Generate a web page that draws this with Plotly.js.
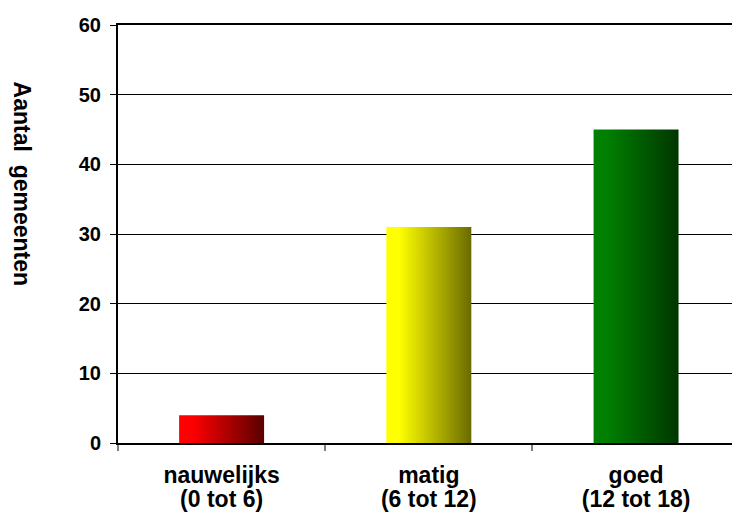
<!DOCTYPE html>
<html>
<head>
<meta charset="utf-8">
<script src="https://cdn.plot.ly/plotly-3.0.1.min.js"></script>
<style>
  html, body { margin: 0; padding: 0; background: #fff; }
  #chart { width: 732px; height: 522px; }
</style>
</head>
<body>
<div id="chart"></div>
<script>
// Beoordeling per klasse: aantal gemeenten
const categories = ['nauwelijks', 'matig', 'goed'];
const ranges = ['(0 tot 6)', '(6 tot 12)', '(12 tot 18)'];
const counts = [4, 31, 45];
const lightColors = ['#ff0000', '#ffff00', '#008000'];
const darkColors = ['#5a0000', '#6a6a00', '#003600'];
const yTicks = [0, 10, 20, 30, 40, 50, 60];

const FONT = '"Liberation Sans", Arial, sans-serif';
const barHalf = 0.205;

// Each bar is a filled rectangle with a left-to-right shading.
const traces = counts.map((v, i) => ({
  type: 'scatter',
  mode: 'lines',
  x: [i - barHalf, i + barHalf, i + barHalf, i - barHalf, i - barHalf],
  y: [0, 0, v, v, 0],
  fill: 'toself',
  fillgradient: {
    type: 'horizontal',
    colorscale: [[0, lightColors[i]], [0.15, lightColors[i]], [1, darkColors[i]]]
  },
  line: { width: 0 },
  hoverinfo: 'skip',
  showlegend: false,
  name: categories[i]
}));

const xRange = [-0.5, 2.463];
const boundaries = categories.map((_, i) => i - 0.5);
const idx = categories.map((_, i) => i);

const labelFont = { family: FONT, size: 23, weight: 700, color: '#000' };

const layout = {
  width: 732,
  height: 522,
  margin: { l: 118, r: 0, t: 25, b: 79 },
  paper_bgcolor: '#ffffff',
  plot_bgcolor: '#ffffff',
  font: { family: FONT, color: '#000', size: 20, weight: 700 },
  showlegend: false,
  xaxis: {
    range: xRange,
    tickmode: 'array',
    tickvals: boundaries,
    ticks: 'outside',
    ticklen: 6,
    tickwidth: 2,
    tickcolor: '#808080',
    showticklabels: false,
    showgrid: false,
    zeroline: false,
    showline: true,
    linecolor: '#000',
    linewidth: 2,
    mirror: true,
    fixedrange: true
  },
  xaxis2: {
    overlaying: 'x',
    anchor: 'y',
    side: 'bottom',
    range: xRange,
    tickmode: 'array',
    tickvals: idx,
    ticktext: categories,
    ticks: '',
    ticklabelstandoff: 16,
    tickfont: labelFont,
    showgrid: false,
    zeroline: false,
    showline: false,
    fixedrange: true
  },
  xaxis3: {
    overlaying: 'x',
    anchor: 'y',
    side: 'bottom',
    range: xRange,
    tickmode: 'array',
    tickvals: idx,
    ticktext: ranges,
    ticks: '',
    ticklabelstandoff: 40,
    tickfont: labelFont,
    showgrid: false,
    zeroline: false,
    showline: false,
    fixedrange: true
  },
  yaxis: {
    range: [0, 60],
    tickmode: 'array',
    tickvals: yTicks,
    ticks: 'outside',
    ticklen: 6,
    tickwidth: 1,
    tickcolor: '#000',
    ticklabelstandoff: 5,
    tickfont: { family: FONT, size: 20, weight: 700, color: '#000' },
    showgrid: true,
    gridcolor: '#000',
    gridwidth: 1,
    zeroline: false,
    showline: true,
    linecolor: '#000',
    linewidth: 2,
    fixedrange: true
  },
  annotations: [{
    text: 'Aantal\u00a0 gemeenten',
    textangle: 90,
    xref: 'paper', yref: 'paper',
    x: -0.156, y: 0.62,
    xanchor: 'center', yanchor: 'middle',
    showarrow: false,
    font: { family: FONT, size: 23, weight: 700, color: '#000' }
  }]
};

// Invisible helper traces so the label axes are drawn.
traces.push(
  { type: 'scatter', x: [0], y: [0], xaxis: 'x2', mode: 'markers', marker: { opacity: 0 }, hoverinfo: 'skip', showlegend: false },
  { type: 'scatter', x: [0], y: [0], xaxis: 'x3', mode: 'markers', marker: { opacity: 0 }, hoverinfo: 'skip', showlegend: false }
);

Plotly.newPlot('chart', traces, layout, { displayModeBar: false, staticPlot: true });
</script>
</body>
</html>
